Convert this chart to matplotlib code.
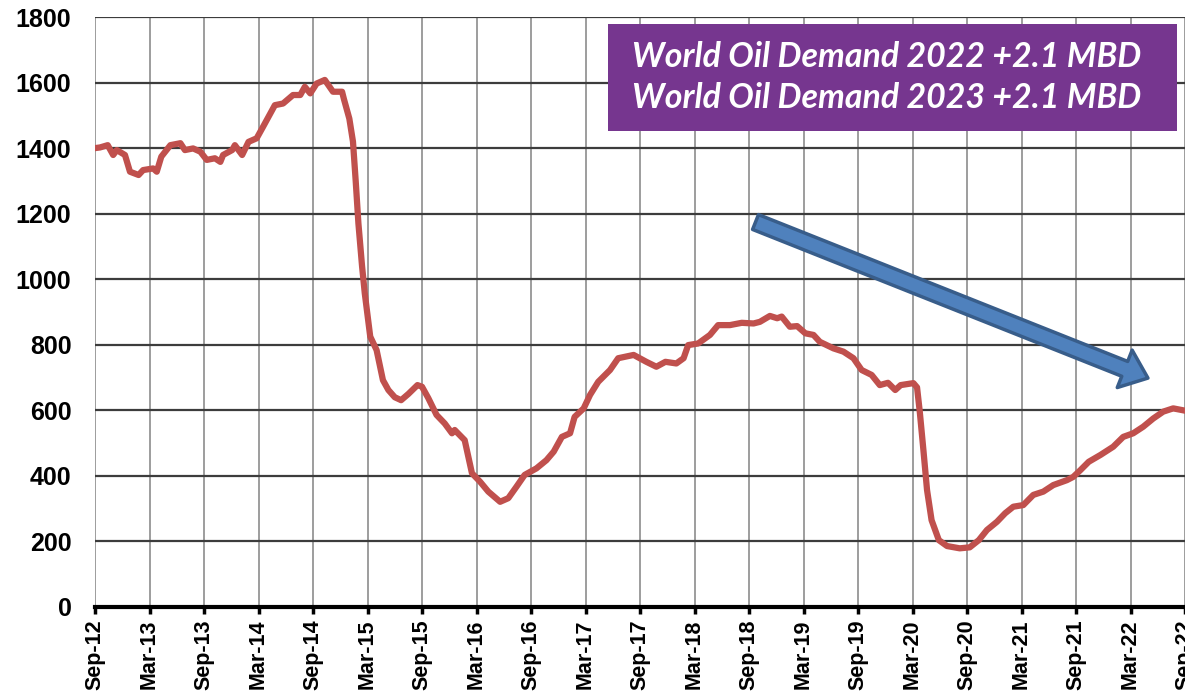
import matplotlib
matplotlib.use("Agg")
import matplotlib.pyplot as plt
from matplotlib.patches import Rectangle
import numpy as np

# months since Sep-2012 and rig count
months = [0.0, 0.55, 1.4, 2.0, 2.4, 3.3, 3.85, 4.8, 5.3, 6.4, 6.8, 7.3, 8.3, 9.4, 9.9,
          10.8, 11.6, 12.3, 13.2, 13.8, 14.1, 15.1, 15.4, 16.2, 16.9, 17.8, 18.5, 19.5,
          19.8, 20.7, 21.8, 22.6, 23.1, 23.7, 24.4, 25.3, 25.7, 26.2, 27.2, 27.4, 28.0,
          28.4, 28.7, 29.0, 29.4, 29.7, 30.3, 31.0, 31.7, 32.3, 33.0, 33.7, 34.5, 35.5,
          36.0, 36.7, 37.6, 38.5, 39.3, 39.6, 40.7, 41.5, 42.4, 43.3, 44.6, 45.5, 46.4,
          47.3, 48.6, 49.7, 50.5, 51.4, 52.3, 52.8, 53.8, 54.5, 55.4, 56.7, 57.6, 59.3,
          60.7, 61.8, 62.8, 64.0, 64.8, 65.3, 66.4, 67.7, 68.6, 69.9, 71.2, 72.5, 73.2,
          74.3, 75.1, 75.6, 76.5, 77.3, 78.2, 79.1, 79.8, 81.3, 82.4, 83.5, 84.4, 85.5,
          86.4, 87.3, 88.1, 88.7, 90.1, 90.5, 90.8, 91.2, 91.6, 92.1, 92.9, 93.8, 95.2,
          96.3, 97.3, 98.2, 99.3, 100.2, 101.1, 102.2, 103.3, 104.4, 105.5, 107.0, 107.7,
          108.5, 109.4, 110.7, 112.1, 113.2, 114.3, 115.4, 116.5, 117.6, 118.7, 120.0]
rigs = [1400, 1402, 1409, 1379, 1394, 1379, 1328, 1318, 1333, 1338, 1328, 1374, 1409, 1415, 1394,
        1399, 1389, 1364, 1369, 1358, 1379, 1394, 1409, 1379, 1419, 1430, 1465, 1516,
        1531, 1536, 1562, 1562, 1587, 1567, 1597, 1608, 1592, 1572, 1572, 1550, 1490,
        1420, 1300, 1170, 1040, 957, 825, 784, 692, 662, 640, 631, 650, 677,
        672, 637, 586, 560, 530, 540, 509, 408, 382, 352, 321, 332, 367,
        403, 423, 448, 474, 519, 530, 580, 606, 647, 687, 723, 759, 769,
        748, 733, 748, 743, 759, 799, 804, 830, 860, 860, 867, 865, 870,
        888, 881, 886, 855, 857, 835, 830, 809, 789, 779, 759, 723, 708,
        677, 684, 662, 677, 683, 670, 596, 479, 357, 265, 204, 186, 179,
        182, 204, 235, 260, 286, 306, 311, 342, 352, 372, 387, 397,
        418, 443, 464, 489, 519, 530, 550, 575, 596, 606, 599]

tick_labels = ["Sep-12", "Mar-13", "Sep-13", "Mar-14", "Sep-14", "Mar-15", "Sep-15",
               "Mar-16", "Sep-16", "Mar-17", "Sep-17", "Mar-18", "Sep-18", "Mar-19",
               "Sep-19", "Mar-20", "Sep-20", "Mar-21", "Sep-21", "Mar-22", "Sep-22"]
box_lines = ["World Oil Demand 2022 +2.1 MBD", "World Oil Demand 2023 +2.1 MBD"]

fig = plt.figure(figsize=(11.85, 6.93), dpi=100)
ax = fig.add_axes([95/1185, 86/693, 1090/1185, 590/693])

ax.plot(months, rigs, color="#C0504D", lw=4.5, solid_joinstyle="round", zorder=5)

ax.set_xlim(0, 120)
ax.set_ylim(0, 1800)
ax.set_xticks(np.arange(0, 121, 6))
ax.set_xticklabels(tick_labels, rotation=90, fontsize=15.5, fontweight="bold",
                   family="Liberation Sans")
ax.set_yticks(np.arange(0, 1801, 200))
ax.set_yticklabels([str(v) for v in range(0, 1801, 200)], fontsize=18,
                   fontweight="bold", family="Liberation Sans")
ax.tick_params(axis="y", length=0, pad=17)
ax.tick_params(axis="x", length=5, width=2.5, pad=4, color="black")

for s in ["left", "right", "top"]:
    ax.spines[s].set_visible(False)
ax.spines["bottom"].set_linewidth(3)
ax.spines["bottom"].set_zorder(6)

ax.grid(axis="y", color="#3C3C3C", lw=1.6)
ax.grid(axis="x", color="#8C8C8C", lw=1.2)
ax.set_axisbelow(True)

# purple note box
ax.add_patch(Rectangle((0.4706, 0.807), 0.5221, 0.181, transform=ax.transAxes,
                       facecolor="#76368F", edgecolor="none", zorder=7, clip_on=False))
for txt, yy in zip(box_lines, [0.932, 0.862]):
    ax.text(0.4927, yy, txt, transform=ax.transAxes, color="white", fontsize=24.4,
            fontweight="bold", fontstyle="italic", family="Lato",
            ha="left", va="center", zorder=8)

# blue trend arrow
ax.annotate("", xy=(0.966, 0.388), xytext=(0.606, 0.6525),
            xycoords="axes fraction", textcoords="axes fraction",
            arrowprops=dict(arrowstyle="simple,head_length=1.8,head_width=2.9,tail_width=1.15",
                            mutation_scale=10, fc="#4F81BD", ec="#385D8A", lw=2.5,
                            shrinkA=0, shrinkB=0), zorder=8)

fig.savefig("out.png", dpi=100)
